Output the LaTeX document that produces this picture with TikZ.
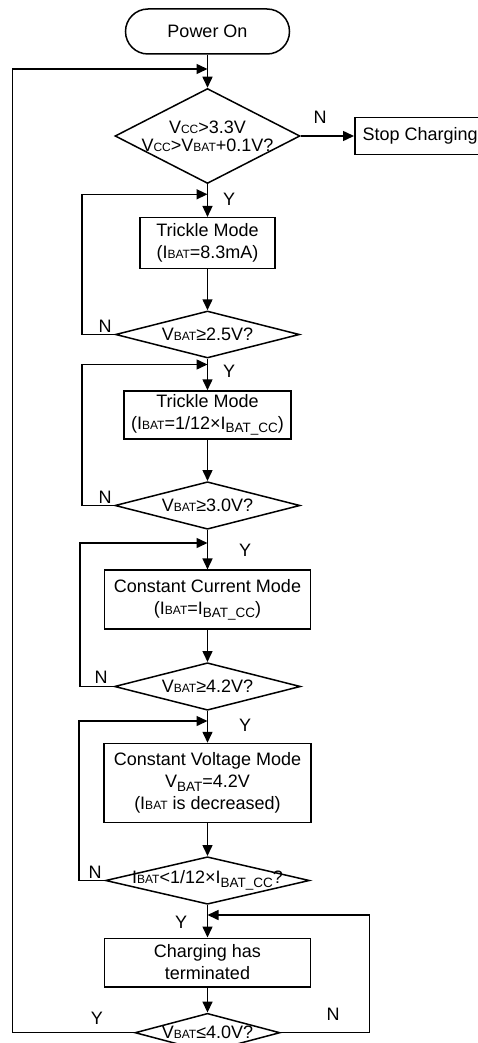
\documentclass[tikz,border=0pt]{standalone}
\usepackage{fontspec}
\setmainfont{Liberation Sans}
\usetikzlibrary{arrows.meta,shapes.geometric}
\newcommand\sm[1]{{\fontsize{12}{12}\selectfont #1}}
\newcommand\lo[1]{\raisebox{-3.5pt}{\fontsize{13.5}{13.5}\selectfont #1}}
\begin{document}
\begin{tikzpicture}[x=1pt,y=-1pt, line width=1.5pt,
  every node/.style={font=\fontsize{18}{22}\selectfont},
  box/.style={draw, rectangle, inner sep=0pt, align=center},
  dia/.style={draw, diamond, inner sep=0pt},
  lbl/.style={inner sep=0pt, anchor=center},
  arr/.style={-{Triangle[length=11pt,width=10pt]}}]
\useasboundingbox (0,0) rectangle (478,1043);
\clip (0,0) rectangle (478,1043);

\node[box, rounded corners=22.5pt, minimum width=164pt, minimum height=45pt] (start) at (207.5,31.5) {Power On};
\node[dia, minimum width=185pt, minimum height=95pt,
  label={[lbl, align=center]center:V\sm{CC}>3.3V\\[-4pt]V\sm{CC}>V\sm{BAT}+0.1V?}] (d1) at (207.5,136) {};
\node[box, anchor=west, minimum width=131pt, minimum height=37pt] (stop) at (354,136) {Stop Charging};
\node[box, minimum width=135pt, minimum height=51pt] (t1) at (207.5,243.2) {Trickle Mode\\(I\sm{BAT}=8.3mA)};
\node[dia, minimum width=184pt, minimum height=47pt,
  label={[lbl]center:V\sm{BAT}≥2.5V?}] (d2) at (207.5,334.5) {};
\node[box, minimum width=167pt, minimum height=48pt] (t2) at (207.5,415) {Trickle Mode\\(I\sm{BAT}=1/12×I\lo{BAT\_CC})};
\node[dia, minimum width=185pt, minimum height=47.5pt,
  label={[lbl]center:V\sm{BAT}≥3.0V?}] (d3) at (207.5,505.5) {};
\node[box, minimum width=206pt, minimum height=59pt] (cc) at (207.5,599.7) {Constant Current Mode\\(I\sm{BAT}=I\lo{BAT\_CC})};
\node[dia, minimum width=186pt, minimum height=47.5pt,
  label={[lbl]center:V\sm{BAT}≥4.2V?}] (d4) at (207.5,686.5) {};
\node[box, minimum width=207pt, minimum height=79pt] (cv) at (207.5,783) {Constant Voltage Mode\\V\lo{BAT}=4.2V\\(I\sm{BAT} is decreased)};
\node[dia, minimum width=204pt, minimum height=47.5pt,
  label={[lbl]center:I\sm{BAT}<1/12×I\lo{BAT\_CC}?}] (d5) at (207.5,880.5) {};
\node[box, minimum width=206pt, minimum height=48.5pt] (term) at (207.5,962.5) {Charging has\\terminated};
\node[dia, minimum width=145pt, minimum height=38.8pt,
  label={[lbl]center:V\sm{BAT}≤4.0V?}] (d6) at (207.5,1032.7) {};

\coordinate (j0) at (207.5,69);   \coordinate (c0) at (12.7,69);
\coordinate (j1) at (207.5,194.3); \coordinate (c1) at (82,194.3);
\coordinate (j2) at (207.5,364.5); \coordinate (c2) at (82,364.5);
\coordinate (j3) at (207.5,543);   \coordinate (c3) at (80,543);
\coordinate (j4) at (207.5,721);   \coordinate (c4) at (79,721);
\coordinate (j5) at (207.5,915);   \coordinate (c5) at (369.3,915);

\draw[arr] (start.south) -- (d1.north);
\draw[arr] (d6.west) -| (c0) -- (j0);
\draw[arr] (d1.east) -- (stop.west);
\draw[arr] (d1.south) -- (t1.north);
\draw[arr] (d2.west) -| (c1) -- (j1);
\draw[arr] (t1.south) -- (d2.north);
\draw[arr] (d2.south) -- (t2.north);
\draw[arr] (d3.west) -| (c2) -- (j2);
\draw[arr] (t2.south) -- (d3.north);
\draw[arr] (d3.south) -- (cc.north);
\draw[arr] (d4.west) -| (c3) -- (j3);
\draw[arr] (cc.south) -- (d4.north);
\draw[arr] (d4.south) -- (cv.north);
\draw[arr] (d5.west) -| (c4) -- (j4);
\draw[arr] (cv.south) -- (d5.north);
\draw[arr] (d5.south) -- (term.north);
\draw[arr] (d6.east) -| (c5) -- (j5);
\draw[arr] (term.south) -- (d6.north);

\node[lbl] (n1) at (320,117) {N};
\node[lbl] (y1) at (229,199) {Y};
\node[lbl] (n2) at (105,326) {N};
\node[lbl] (y2) at (229,371) {Y};
\node[lbl] (n3) at (105,497) {N};
\node[lbl] (y3) at (245,550) {Y};
\node[lbl] (n4) at (101,677) {N};
\node[lbl] (y4) at (245,725) {Y};
\node[lbl] (n5) at (95,872) {N};
\node[lbl] (y5) at (181,922) {Y};
\node[lbl] (y6) at (97,1018) {Y};
\node[lbl] (n6) at (333,1014) {N};
\end{tikzpicture}
\end{document}
